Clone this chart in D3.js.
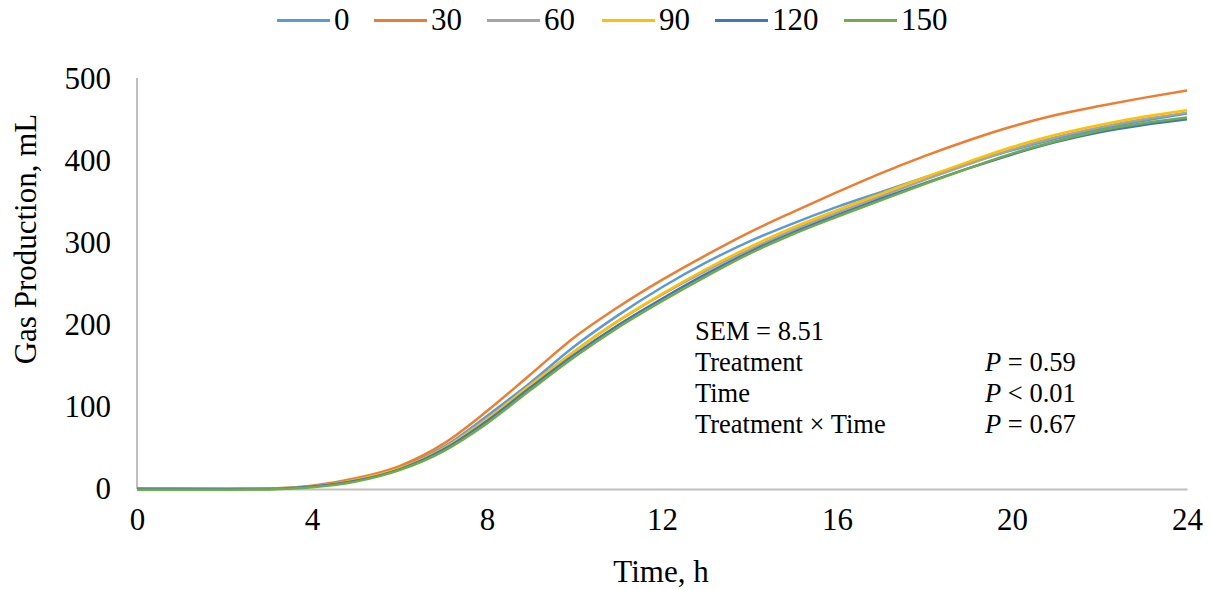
<!DOCTYPE html>
<head>
  <meta charset="utf-8">
  <script src="https://d3js.org/d3.v7.min.js"></script>
  <style>
    body { margin: 0; background: #fff; }
    .axis path { stroke: #bfbfbf; stroke-width: 2; }
    .axis line { display: none; }
  </style>
</head>
<body>
<svg id="chart" width="1211" height="590"></svg>
<script>
  var FONT = "'Liberation Serif', 'Times New Roman', Tinos, 'DejaVu Serif', serif";

  // hours, 0..24
  var hours = d3.range(0, 25);

  var seriesNames = ['0', '30', '60', '90', '120', '150'];
  var colors = ['#5b9bd5', '#ed7d31', '#a5a5a5', '#ffc000', '#4472c4', '#70ad47'];

  // gas production, mL
  var gp0   = [1, 0.5, 0, 0.5, 3.5, 12, 26, 51, 89, 130, 174, 212, 246, 276, 302, 324, 344, 362, 380, 397, 413, 427, 439, 449, 458];
  var gp30  = [0, 0, 0, 0.5, 4, 13, 28, 55, 95, 140, 185, 222, 255, 285, 313, 338, 362, 385, 406, 425, 442, 456, 467, 477, 486];
  var gp60  = [0, 0, 0, 0, 3, 11, 25, 50, 86, 127, 168, 205, 237, 266, 292, 316, 337, 357, 377, 396, 414, 429, 441, 451, 459];
  var gp90  = [0, 0, 0, 0, 3, 11, 25, 49, 85, 127, 168, 205, 238, 268, 295, 319, 340, 360, 380, 399, 417, 432, 444, 454, 462];
  var gp120 = [0, 0, 0, 0, 3, 10, 24, 48, 83, 124, 164, 200, 232, 262, 289, 313, 334, 354, 373, 391, 408, 423, 435, 444, 451];
  var gp150 = [-1, -1, -1, -0.5, 2, 9, 23, 46, 80, 121, 161, 197, 229, 259, 287, 311, 332, 352, 372, 391, 409, 424, 437, 446, 453];
  var allSeries = [gp0, gp30, gp60, gp90, gp120, gp150];

  var xTicks = [0, 4, 8, 12, 16, 20, 24];
  var yTicks = [0, 100, 200, 300, 400, 500];

  var statsLeft = ['SEM = 8.51', 'Treatment', 'Time', 'Treatment \u00d7 Time'];
  var statsRight = [null, '= 0.59', '< 0.01', '= 0.67'];

  var margin = {top: 79, right: 24, bottom: 101, left: 137};
  var width = 1211 - margin.left - margin.right,
      height = 590 - margin.top - margin.bottom;

  var svg = d3.select('#chart');
  var g = svg.append('g').attr('transform', 'translate(' + margin.left + ',' + margin.top + ')');

  var x = d3.scaleLinear().domain([0, 24]).range([0, width]);
  var y = d3.scaleLinear().domain([0, 500]).range([height, 0]);

  g.append('g')
    .attr('class', 'x axis')
    .attr('transform', 'translate(0,' + height + ')')
    .call(d3.axisBottom(x).tickValues(xTicks).tickSize(0).tickSizeOuter(0).tickPadding(19))
    .selectAll('text')
    .style('font-family', FONT)
    .style('font-size', '31px')
    .attr('fill', '#000');

  g.append('g')
    .attr('class', 'y axis')
    .call(d3.axisLeft(y).tickValues(yTicks).tickSize(0).tickSizeOuter(0).tickPadding(26))
    .selectAll('text')
    .style('font-family', FONT)
    .style('font-size', '31px')
    .attr('fill', '#000');

  g.select('.y.axis path').attr('d', 'M0,' + height + 'V-1');

  var line = d3.line()
    .x(function(d, i) { return x(hours[i]); })
    .y(function(d) { return y(d); })
    .curve(d3.curveMonotoneX);

  g.selectAll('.series')
    .data(allSeries)
    .enter().append('path')
    .attr('class', 'series')
    .attr('fill', 'none')
    .attr('stroke', function(d, i) { return colors[i]; })
    .attr('stroke-width', 2.5)
    .attr('stroke-linejoin', 'round')
    .attr('d', line);

  // axis titles
  svg.append('text')
    .attr('x', 661)
    .attr('y', 582)
    .attr('text-anchor', 'middle')
    .style('font-family', FONT)
    .style('font-size', '31px')
    .text('Time, h');

  svg.append('text')
    .attr('transform', 'translate(36,239) rotate(-90)')
    .attr('text-anchor', 'middle')
    .style('font-family', FONT)
    .style('font-size', '31px')
    .text('Gas Production, mL');

  // legend
  var legendX = [277, 374, 487, 602, 715, 844];
  var legend = svg.append('g');
  seriesNames.forEach(function(name, i) {
    legend.append('line')
      .attr('x1', legendX[i]).attr('x2', legendX[i] + 53)
      .attr('y1', 20.5).attr('y2', 20.5)
      .attr('stroke', colors[i]).attr('stroke-width', 3);
    legend.append('text')
      .attr('x', legendX[i] + 57).attr('y', 30)
      .style('font-family', FONT)
      .style('font-size', '31px')
      .text(name);
  });

  // stats
  var stats = svg.append('g');
  statsLeft.forEach(function(s, i) {
    stats.append('text')
      .attr('x', 695).attr('y', 340 + i * 31)
      .style('font-family', FONT)
      .style('font-size', '26.5px')
      .text(s);
    if (statsRight[i]) {
      var t = stats.append('text')
        .attr('x', 985).attr('y', 340 + i * 31)
        .style('font-family', FONT)
        .style('font-size', '26.5px');
      t.append('tspan').style('font-style', 'italic').text('P');
      t.append('tspan').text(' ' + statsRight[i]);
    }
  });
</script>
</body>
